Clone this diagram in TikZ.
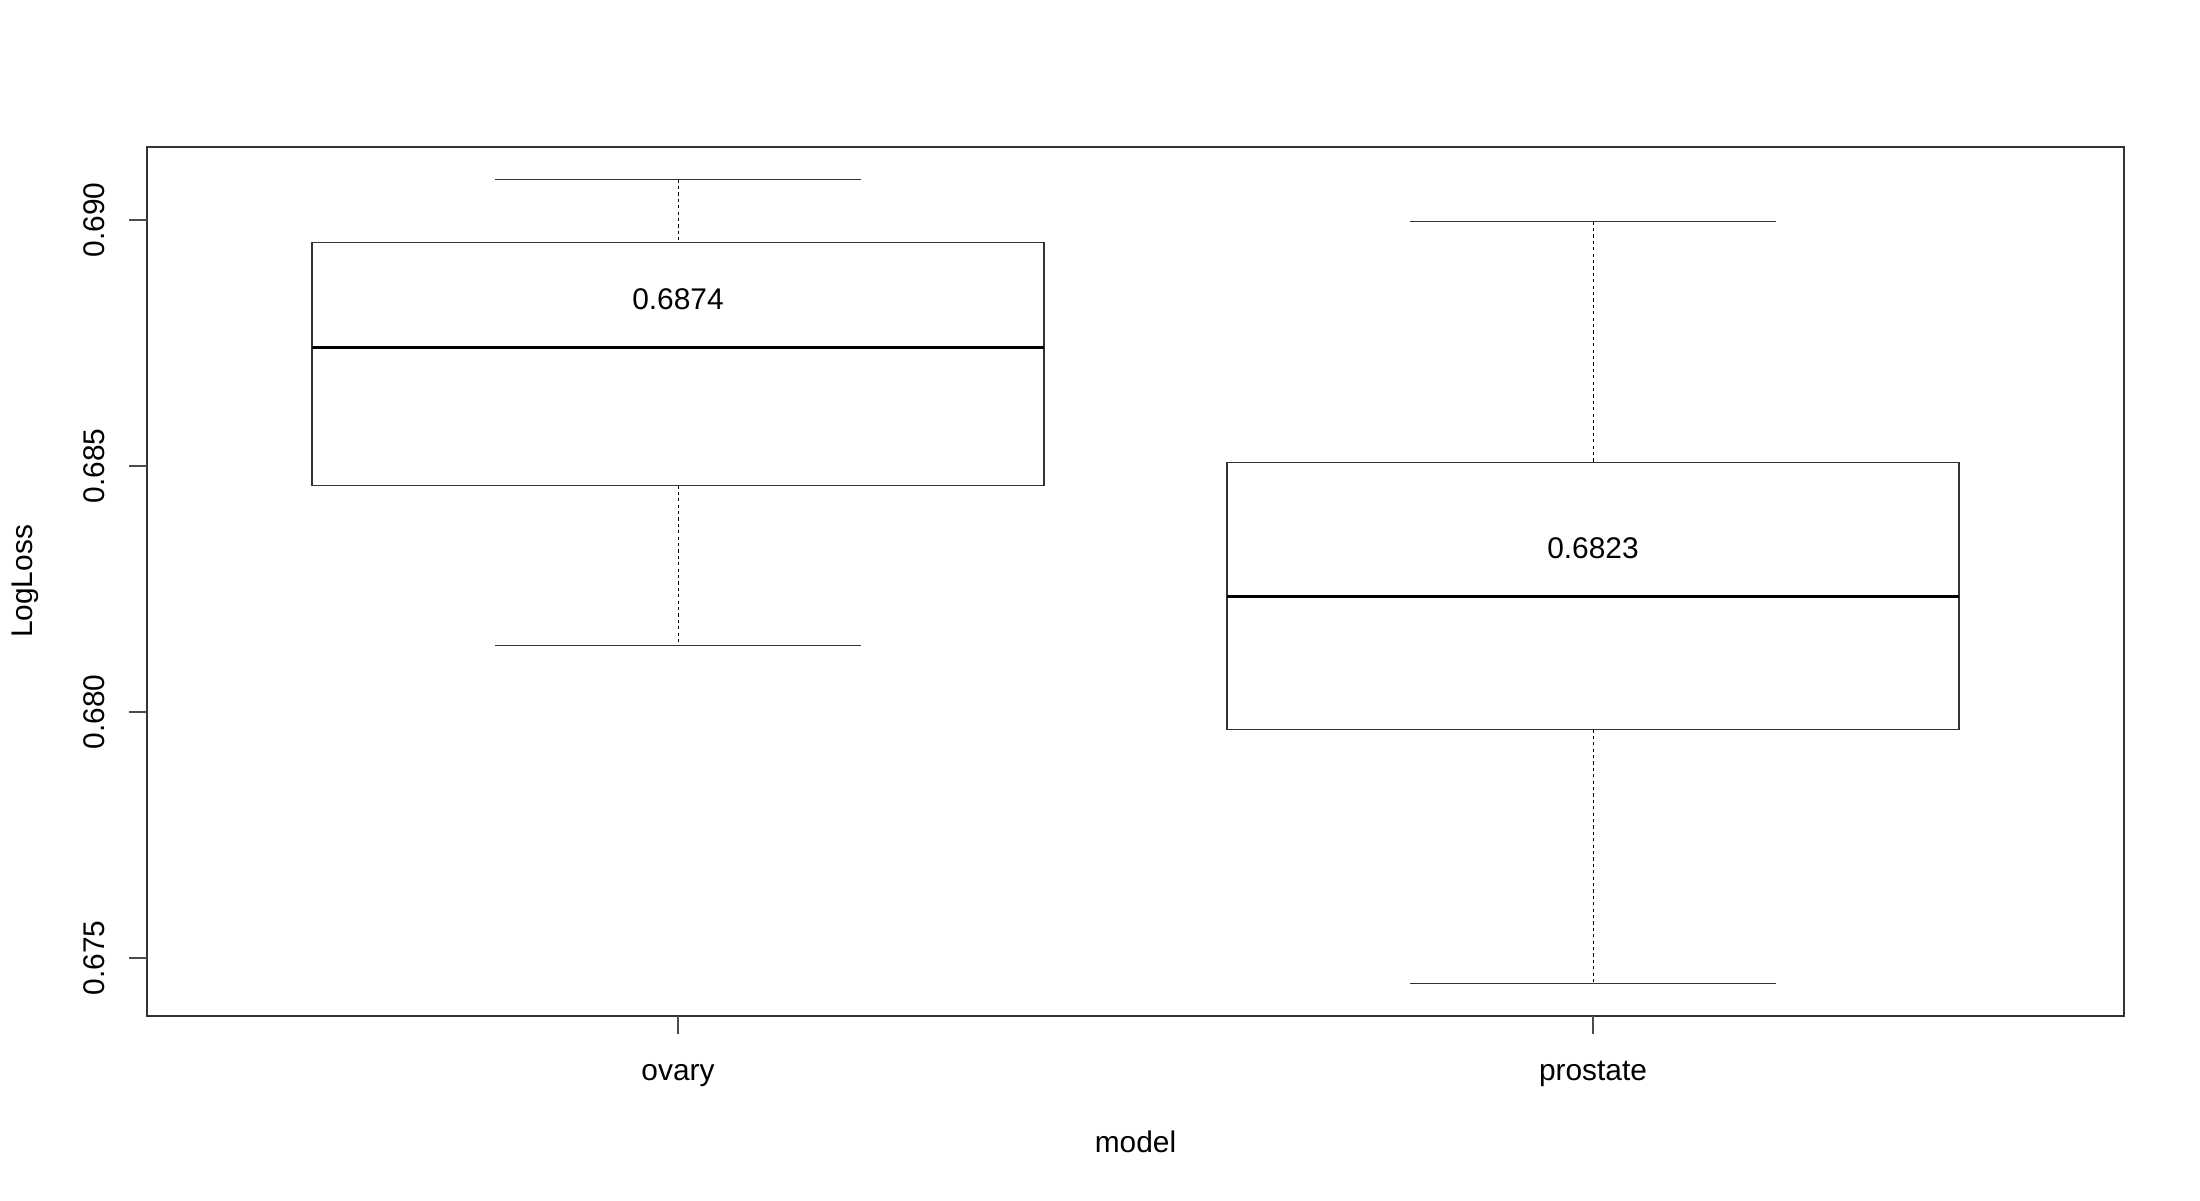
\documentclass[tikz,border=0pt]{standalone}
\usepackage{fontspec}
\setmainfont{Liberation Sans}
\begin{document}
\begin{tikzpicture}[x=0.5pt,y=-0.5pt,
  plotline/.style={line width=0.55pt, draw=black!80},
  tickline/.style={line width=0.55pt, draw=black!70},
  whisk/.style={line width=0.5pt, draw=black, dash pattern=on 1.6pt off 1.6pt},
  medline/.style={line width=1.5pt, draw=black},
  lab/.style={font=\fontsize{14.94}{18}\selectfont, inner sep=0pt, text=black}]
\useasboundingbox[fill=white] (0,0) rectangle (2200,1200);
% frame
\draw[plotline] (147,147) rectangle (2124,1016);
% y axis ticks and labels
\foreach \v/\t/\n in {220/0.690/a, 466/0.685/b, 712/0.680/c, 958/0.675/d} {
  \coordinate (yt\n) at (147,\v);
  \coordinate (ytl\n) at (129,\v);
  \draw[tickline] (ytl\n) -- (yt\n);
  \node[lab, rotate=90, anchor=base] (ylab\n) at (104,\v) {\t};
}
% x axis ticks and labels
\coordinate (xt1) at (678,1016);
\coordinate (xt1e) at (678,1034);
\coordinate (xt2) at (1593,1016);
\coordinate (xt2e) at (1593,1034);
\draw[tickline] (xt1) -- (xt1e);
\draw[tickline] (xt2) -- (xt2e);
\node[lab, anchor=base] (ovary) at (678,1080.5) {ovary};
\node[lab, anchor=base] (prostate) at (1593,1080.5) {prostate};
\node[lab, anchor=base] (xlabel) at (1135.5,1152) {model};
\node[lab, rotate=90, anchor=base] (ylabel) at (32.3,581.5) {LogLoss};
% ovary box
\coordinate (ow1) at (678,179.5);
\coordinate (oq3) at (678,242.6);
\coordinate (oq1) at (678,485.3);
\coordinate (ow0) at (678,645.2);
\draw[whisk] (ow1) -- (oq3);
\draw[whisk] (oq1) -- (ow0);
\draw[plotline] (495,179.5) -- (861,179.5);
\draw[plotline] (495,645.2) -- (861,645.2);
\draw[plotline] (312,242.6) rectangle (1044,485.3);
\draw[medline] (312,347.8) -- (1044,347.8);
\node[lab] (omed) at (678,298.8) {0.6874};
% prostate box
\coordinate (pw1) at (1593,221.6);
\coordinate (pq3) at (1593,462.8);
\coordinate (pq1) at (1593,729.3);
\coordinate (pw0) at (1593,983.5);
\draw[whisk] (pw1) -- (pq3);
\draw[whisk] (pq1) -- (pw0);
\draw[plotline] (1410,221.6) -- (1776,221.6);
\draw[plotline] (1410,983.5) -- (1776,983.5);
\draw[plotline] (1227,462.8) rectangle (1959,729.3);
\draw[medline] (1227,596) -- (1959,596);
\node[lab] (pmed) at (1593,548) {0.6823};
\end{tikzpicture}
\end{document}
